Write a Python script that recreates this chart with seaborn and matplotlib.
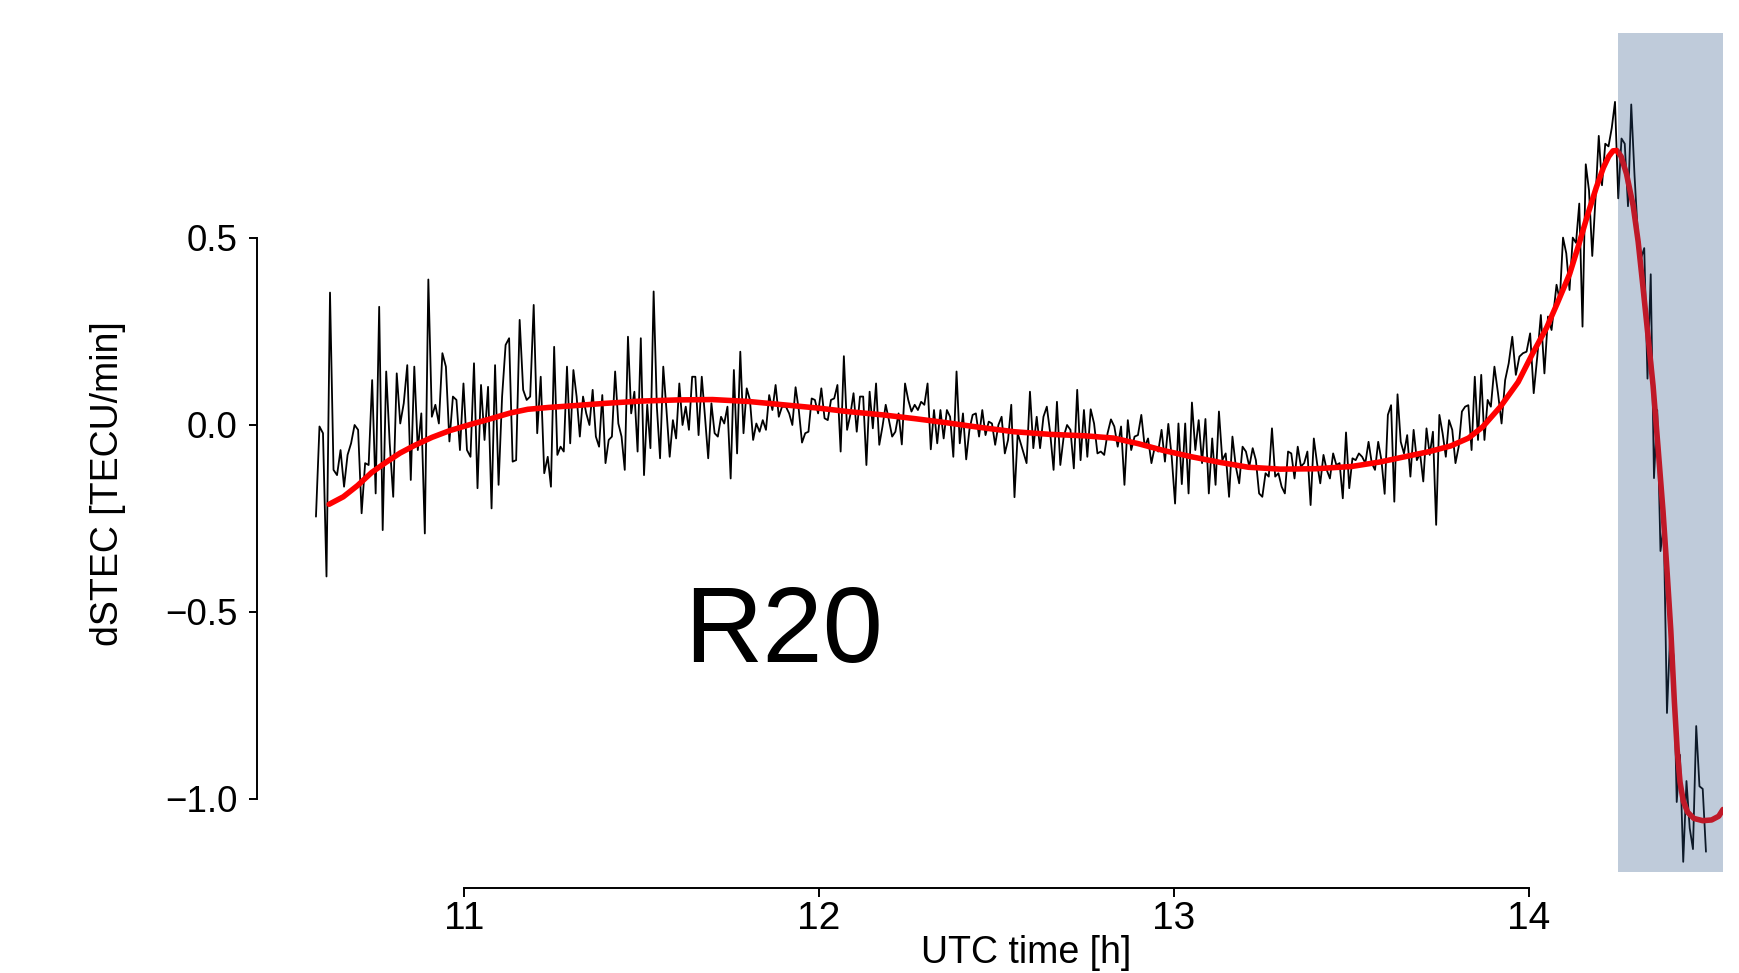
import numpy as np
import pandas as pd
import matplotlib
matplotlib.use("Agg")
import matplotlib.pyplot as plt
import seaborn as sns

# ---------------- data ----------------
# observed dSTEC, in consecutive segments (hour range of each segment + values)
seg_a_range = (10.583, 11.236)
seg_a = [-0.245, -0.004, -0.022, -0.405, 0.354, -0.120, -0.134, -0.067, -0.165, -0.080,
         -0.049, 0.000, -0.013, -0.236, -0.102, -0.107, 0.120, -0.183, 0.316, -0.281,
         0.143, -0.049, -0.192, 0.138, 0.004, 0.058, 0.160, -0.147, 0.156, -0.067,
         0.031, -0.290, 0.389, 0.022, 0.054, 0.004, 0.192, 0.156, -0.044, 0.076,
         0.067, -0.067, 0.111, -0.067, -0.085, 0.165, -0.169, 0.107, -0.040, 0.102,
         -0.223, 0.160, -0.160, 0.076, 0.214, 0.232, -0.098, -0.094, 0.281, 0.094,
         0.067, 0.076, 0.321, -0.022, 0.129, -0.129, -0.085]

seg_b_range = (11.245, 11.896)
seg_b = [-0.165, 0.209, -0.080, -0.058, -0.071, 0.156, -0.049, 0.147, 0.076, -0.031,
         0.076, 0.031, 0.000, 0.094, -0.031, -0.058, 0.080, -0.102, -0.040, -0.031,
         0.143, 0.004, -0.031, -0.120, 0.236, 0.031, 0.089, -0.071, 0.232, -0.134,
         0.054, -0.062, 0.357, 0.049, -0.089, 0.156, 0.040, -0.085, 0.013, -0.036,
         0.111, 0.000, 0.049, -0.013, 0.129, 0.129, -0.027, 0.129, 0.022, -0.089,
         0.058, -0.022, -0.031, 0.022, 0.004, 0.049, -0.143, 0.147, -0.076, 0.196,
         -0.022, 0.098, 0.067, -0.040, 0.004, -0.018, 0.013, -0.013, 0.080, 0.040,
         0.107, 0.022, 0.049]

seg_c_range = (11.907, 12.560)
seg_c = [0.049, 0.031, 0.000, 0.101, 0.040, -0.047, -0.022, -0.018, 0.071, 0.067,
         0.031, 0.098, 0.018, 0.013, 0.067, 0.071, 0.107, -0.071, 0.184, -0.013,
         0.027, 0.085, -0.018, 0.076, 0.076, -0.107, 0.089, -0.009, 0.111, -0.053,
         -0.004, 0.054, 0.013, -0.031, -0.018, 0.031, -0.052, 0.111, 0.067, 0.036,
         0.054, 0.040, 0.062, 0.054, 0.111, -0.065, 0.040, -0.049, 0.040, -0.036,
         0.040, 0.022, -0.085, 0.143, -0.049, 0.031, -0.092, -0.013, 0.027, 0.031,
         -0.031, 0.040, -0.027, 0.009, 0.004, -0.053, 0.000, 0.022, -0.076, -0.040,
         0.054, -0.193, -0.022]

seg_d_range = (12.585, 13.222)
seg_d = [-0.102, 0.089, -0.062, 0.022, -0.062, 0.022, 0.049, -0.022, -0.120, 0.062,
         -0.107, -0.031, 0.000, -0.013, -0.116, 0.094, -0.094, 0.040, -0.085, 0.042,
         0.004, -0.076, -0.071, -0.080, -0.022, 0.015, -0.004, -0.058, -0.004, -0.160,
         0.013, -0.067, -0.031, -0.027, 0.027, -0.058, -0.036, -0.102, -0.058, -0.071,
         -0.013, -0.098, 0.003, -0.085, -0.210, 0.004, -0.158, 0.004, -0.183, 0.060,
         -0.067, 0.013, -0.102, 0.016, -0.183, -0.036, -0.160, 0.036, -0.094, -0.076,
         -0.192, -0.031, -0.111, -0.156, -0.058, -0.071, -0.111, -0.062]

seg_e_range = (13.231, 13.884)
seg_e = [-0.094, -0.183, -0.192, -0.129, -0.138, -0.009, -0.138, -0.129, -0.165, -0.183,
         -0.071, -0.076, -0.143, -0.058, -0.111, -0.102, -0.071, -0.214, -0.036, -0.102,
         -0.156, -0.080, -0.120, -0.143, -0.076, -0.107, -0.102, -0.196, -0.020, -0.169,
         -0.089, -0.094, -0.076, -0.085, -0.102, -0.045, -0.102, -0.120, -0.045, -0.094,
         -0.184, 0.027, 0.053, -0.205, 0.082, -0.045, -0.076, -0.027, -0.138, -0.013,
         -0.094, -0.076, -0.151, -0.009, -0.080, -0.018, -0.267, 0.027, -0.022, -0.085,
         0.013, -0.013, -0.102, -0.058, 0.036, 0.049, 0.053, -0.067, 0.129, -0.040,
         0.134, -0.040, 0.067]

seg_f_range = (13.893, 14.064)
seg_f = [0.049, 0.156, 0.085, 0.004, 0.120, 0.165, 0.236, 0.134, 0.183, 0.192,
         0.196, 0.245, 0.085, 0.183, 0.294, 0.138, 0.290, 0.254]

seg_g_range = (14.078, 14.499)
seg_g = [0.375, 0.333, 0.501, 0.459, 0.361, 0.501, 0.487, 0.592, 0.263, 0.697,
         0.627, 0.452, 0.606, 0.773, 0.641, 0.752, 0.745, 0.794, 0.864, 0.606,
         0.766, 0.752, 0.585, 0.857, 0.669, 0.515, 0.445, 0.473, 0.124, 0.403,
         -0.142, 0.040, -0.337, -0.267, -0.770, -0.554, -0.617, -1.008, -0.882, -1.168,
         -0.952, -1.078, -1.134, -0.805, -0.966, -0.973, -1.141]

# smooth fit (red curve)
fit_hours = [10.620, 10.660, 10.700, 10.740, 10.780, 10.820, 10.860, 10.910, 10.960, 11.020,
             11.080, 11.130, 11.180, 11.240, 11.300, 11.400, 11.500, 11.600, 11.700, 11.800,
             11.900, 12.000, 12.080, 12.180, 12.270, 12.360, 12.450, 12.550, 12.650, 12.750,
             12.830, 12.900, 12.970, 13.050, 13.130, 13.210, 13.300, 13.400, 13.500, 13.580,
             13.650, 13.720, 13.780, 13.830, 13.870, 13.920, 13.970, 14.010, 14.050, 14.080,
             14.115, 14.140, 14.165, 14.190, 14.210, 14.225, 14.237, 14.248, 14.260, 14.275,
             14.294, 14.308, 14.321, 14.335, 14.350, 14.364, 14.378, 14.390, 14.400, 14.410,
             14.418, 14.426, 14.435, 14.447, 14.465, 14.490, 14.515, 14.535, 14.547]
fit_vals = [-0.212, -0.192, -0.162, -0.127, -0.100, -0.075, -0.055, -0.033, -0.015, 0.002,
            0.018, 0.032, 0.042, 0.047, 0.051, 0.058, 0.064, 0.067, 0.068, 0.063,
            0.054, 0.045, 0.036, 0.027, 0.017, 0.006, -0.006, -0.018, -0.025, -0.029,
            -0.035, -0.050, -0.068, -0.085, -0.100, -0.113, -0.118, -0.117, -0.111, -0.099,
            -0.085, -0.071, -0.056, -0.035, -0.005, 0.049, 0.115, 0.190, 0.260, 0.325,
            0.404, 0.480, 0.560, 0.635, 0.688, 0.718, 0.733, 0.734, 0.718, 0.672,
            0.586, 0.490, 0.374, 0.245, 0.105, -0.060, -0.230, -0.400, -0.550, -0.740,
            -0.870, -0.955, -1.005, -1.035, -1.052, -1.058, -1.056, -1.046, -1.028]

shade_range = (14.251, 14.547)
y_ticks = [-1.0, -0.5, 0.0, 0.5]
y_ticklabels = ["\u22121.0", "\u22120.5", "0.0", "0.5"]
x_ticks = [11, 12, 13, 14]
x_ticklabels = ["11", "12", "13", "14"]

# ---------------- assemble ----------------
segments = [(seg_a_range, seg_a), (seg_b_range, seg_b), (seg_c_range, seg_c),
            (seg_d_range, seg_d), (seg_e_range, seg_e), (seg_f_range, seg_f),
            (seg_g_range, seg_g)]
hours, vals = [], []
for (h0, h1), v in segments:
    hours.extend(np.linspace(h0, h1, len(v)))
    vals.extend(v)
obs = pd.DataFrame({"hour": hours, "dstec": vals})
fit = pd.DataFrame({"hour": fit_hours, "dstec": fit_vals})

sns.set_theme(style="white")
plt.rcParams["font.family"] = ["Liberation Sans", "DejaVu Sans"]

fig = plt.figure(figsize=(17.4, 9.73), dpi=100)
ax = fig.add_axes([257.5 / 1740, 101 / 973, 1465.5 / 1740, 839 / 973])

sns.lineplot(data=obs, x="hour", y="dstec", ax=ax, color="black", linewidth=1.3,
             estimator=None, sort=False, zorder=2)
sns.lineplot(data=fit, x="hour", y="dstec", ax=ax, color="#ff0000", linewidth=4.0,
             estimator=None, sort=False, zorder=3)
ax.axvspan(shade_range[0], shade_range[1], color=(45 / 255, 85 / 255, 135 / 255),
           alpha=0.3, lw=0, zorder=5)

ax.set_xlim(10.4183, 14.547)
ax.set_ylim(-1.1952, 1.0481)
ax.set_xticks(x_ticks)
ax.set_xticklabels(x_ticklabels)
ax.set_yticks(y_ticks)
ax.set_yticklabels(y_ticklabels)
ax.set_xlabel("")
ax.set_ylabel("")

for s in ["top", "right"]:
    ax.spines[s].set_visible(False)
for s in ["left", "bottom"]:
    ax.spines[s].set_color("black")
    ax.spines[s].set_linewidth(1.4)
ax.spines["left"].set_bounds(-1.0, 0.5)
ax.spines["bottom"].set_bounds(11, 14)
ax.spines["bottom"].set_position(("outward", 11.5))
ax.set_facecolor("white")

ax.tick_params(axis="y", left=True, direction="out", length=5.5, width=1.4,
               colors="black", labelsize=26.5, pad=9)
ax.tick_params(axis="x", bottom=True, direction="out", length=6.5, width=1.4,
               colors="black", labelsize=28, pad=3)

ax.text(11.62, -0.634, "R20", fontsize=78, color="black", ha="left", va="baseline")
ax.text(-0.102, 0.4625, "dSTEC [TECU/min]", rotation=90, fontsize=27, color="black",
        ha="center", va="center", transform=ax.transAxes)
ax.text(0.5244, -0.108, "UTC time [h]", fontsize=27, color="black",
        ha="center", va="baseline", transform=ax.transAxes, clip_on=False)

fig.savefig("out.png", dpi=100, facecolor="white")
